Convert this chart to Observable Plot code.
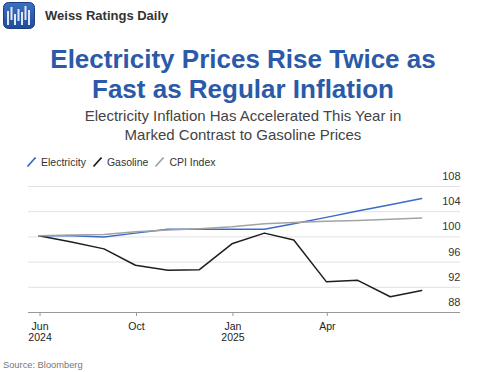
<!DOCTYPE html>
<html>
<head>
<meta charset="utf-8">
<script src="https://cdn.jsdelivr.net/npm/d3@7"></script>
<script src="https://cdn.jsdelivr.net/npm/@observablehq/plot@0.6"></script>
<style>
  html, body { margin: 0; padding: 0; background: #fff; }
  body { width: 486px; height: 372px; position: relative; overflow: hidden;
         font-family: "Liberation Sans", Arial, Helvetica, sans-serif; }
  .abs { position: absolute; }
  #brand { left: 45px; top: 6px; font-size: 13px; font-weight: bold; color: #333; line-height: 20px; }
  #title { left: 0; width: 486px; top: 44px; text-align: center; font-size: 26px; font-weight: bold;
           color: #2a5aa8; line-height: 30px; }
  #subtitle { left: 0; width: 486px; top: 106px; text-align: center; font-size: 15px; color: #444; line-height: 19px; }
  #legend { left: 27px; top: 156px; font-size: 10.5px; color: #333; display: flex; align-items: center; gap: 0; z-index: 2; }
  #legend .item { display: flex; align-items: center; margin-right: 7px; }
  #legend svg { margin-right: 5px; }
  #chart { left: 0; top: 166px; z-index: 1; }
  #source { left: 3px; top: 360px; font-size: 9.3px; color: #777; }
</style>
</head>
<body>
<div class="abs" style="left:3px;top:2px;">
  <svg width="32" height="27" viewBox="0 0 32 27">
    <defs>
      <linearGradient id="lg" x1="0" y1="0" x2="0" y2="1">
        <stop offset="0" stop-color="#3d6fc2"/>
        <stop offset="1" stop-color="#1f4c99"/>
      </linearGradient>
    </defs>
    <rect x="0.5" y="0.5" width="31" height="26" rx="5" fill="url(#lg)" stroke="#1b3f80"/>
    <g fill="#dfe8f7">
      <rect x="4" y="9" width="2" height="14"/>
      <rect x="7.5" y="5" width="2" height="13"/>
      <rect x="11" y="12" width="2" height="11"/>
      <rect x="14.5" y="7" width="2" height="12"/>
      <rect x="18" y="10" width="2" height="13"/>
      <rect x="21.5" y="4" width="2" height="14"/>
      <rect x="25" y="8" width="2" height="15"/>
    </g>
  </svg>
</div>
<div id="brand" class="abs">Weiss Ratings Daily</div>
<div id="title" class="abs">Electricity Prices Rise Twice as<br>Fast as Regular Inflation</div>
<div id="subtitle" class="abs">Electricity Inflation Has Accelerated This Year in<br>Marked Contrast to Gasoline Prices</div>
<div id="chart" class="abs"></div>
<div id="legend" class="abs"></div>
<div id="source" class="abs">Source: Bloomberg</div>
<script>
// Monthly observations (plotted at month end)
const dates = ["2024-06-30","2024-07-31","2024-08-31","2024-09-30","2024-10-31","2024-11-30","2024-12-31",
               "2025-01-31","2025-02-28","2025-03-31","2025-04-30","2025-05-31","2025-06-30"];
const electricity = [100.2, 100.2, 100.0, 100.6, 101.2, 101.2, 101.2, 101.2, 102.1, 103.1, 104.1, 105.1, 106.1];
const gasoline    = [100.2, 99.2, 98.1, 95.5, 94.7, 94.8, 98.9, 100.6, 99.5, 92.9, 93.1, 90.5, 91.5];
const cpi         = [100.2, 100.3, 100.4, 100.8, 101.1, 101.3, 101.6, 102.1, 102.3, 102.5, 102.6, 102.8, 103.0];
const seriesNames = ["Electricity", "Gasoline", "CPI Index"];
const seriesColors = ["#3b6cc5", "#1e1e1e", "#a3a3a3"];
const yTicks = [88, 92, 96, 100, 104, 108];
const xTickDates = ["2024-07-01", "2024-10-01", "2025-01-01", "2025-04-01"];
const xTickLabels = ["Jun\n2024", "Oct", "Jan\n2025", "Apr"];
const xDomain = ["2024-06-20", "2025-08-06"];

const seriesValues = [electricity, gasoline, cpi];
const rows = seriesNames.flatMap((name, s) =>
  dates.map((d, i) => ({ series: name, date: new Date(d), value: seriesValues[s][i] })));
const labelByTime = new Map(xTickDates.map((d, i) => [+new Date(d), xTickLabels[i]]));

// Legend
const legend = document.getElementById("legend");
seriesNames.forEach((name, i) => {
  const item = document.createElement("div");
  item.className = "item";
  item.innerHTML = `<svg width="9" height="10"><line x1="0.5" y1="9.5" x2="8.5" y2="0.5" stroke="${seriesColors[i]}" stroke-width="1.6"/></svg><span>${name}</span>`;
  legend.appendChild(item);
});

const chart = Plot.plot({
  width: 486,
  height: 178,
  marginLeft: 28,
  marginRight: 26,
  marginTop: 20,
  marginBottom: 32,
  style: { fontFamily: "'Liberation Sans', Arial, sans-serif", fontSize: "11px", color: "#333", background: "transparent", overflow: "visible" },
  x: { type: "utc", domain: xDomain.map(d => new Date(d)) },
  y: { domain: [88, 108] },
  color: { domain: seriesNames, range: seriesColors },
  marks: [
    Plot.gridY(yTicks.filter(v => v > 88), { stroke: "#e2e2e2", strokeOpacity: 1, strokeWidth: 1 }),
    Plot.axisY(yTicks, { anchor: "right", tickSize: 0, tickPadding: 0, textAnchor: "end", dy: -10, label: null, fill: "#333" }),
    Plot.ruleY([88], { stroke: "#999", strokeWidth: 1 }),
    Plot.axisX(xTickDates.map(d => new Date(d)), {
      tickSize: 4, tickPadding: 5, stroke: "#999", fill: "#222", fontSize: 10.5, lineHeight: 1.1,
      tickFormat: d => labelByTime.get(+d), label: null
    }),
    Plot.lineY(rows, { x: "date", y: "value", stroke: "series", strokeWidth: 1.5 })
  ]
});
document.getElementById("chart").appendChild(chart);
</script>
</body>
</html>
